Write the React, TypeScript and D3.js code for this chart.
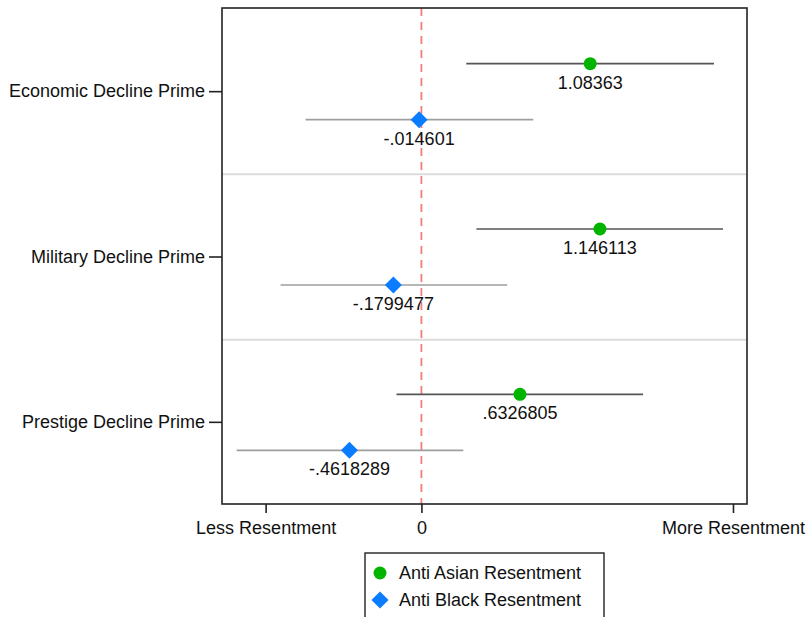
import React, { useEffect, useRef } from "react";
import * as d3 from "d3";

// primes on the y axis, top to bottom
const primes = [
  "Economic Decline Prime",
  "Military Decline Prime",
  "Prestige Decline Prime",
];
const seriesNames = ["Anti Asian Resentment", "Anti Black Resentment"];

// point estimates and confidence bounds, per prime
const asianEst = [1.08363, 1.146113, 0.6326805];
const asianLo = [0.288, 0.353, -0.16];
const asianHi = [1.878, 1.936, 1.423];
const blackEst = [-0.014601, -0.1799477, -0.4618289];
const blackLo = [-0.744, -0.904, -1.186];
const blackHi = [0.718, 0.551, 0.269];

const estLabels = [
  ["1.08363", "1.146113", ".6326805"],
  ["-.014601", "-.1799477", "-.4618289"],
];

const xTicks = [-1, 0, 2];
const xTickLabels = ["Less Resentment", "0", "More Resentment"];

const App: React.FC = () => {
  const svgRef = useRef<SVGSVGElement | null>(null);

  useEffect(() => {
    const width = 810;
    const height = 617;
    const left = 222;
    const right = 747;
    const top = 8;
    const bottom = 504;
    const font = "Liberation Sans, Arial, Helvetica, sans-serif";

    const svg = d3.select(svgRef.current);
    svg.selectAll("*").remove();
    svg
      .attr("width", width)
      .attr("height", height)
      .attr("viewBox", [0, 0, width, height])
      .style("font-family", font);

    const x = d3.scaleLinear().domain([-1.28, 2.09]).range([left, right]);
    const y = d3.scaleBand().domain(primes).range([top + 1, bottom + 1]).paddingInner(0);
    const sub = d3.scalePoint().domain(seriesNames).range([-28, 28]);

    svg.append("rect").attr("width", width).attr("height", height).attr("fill", "white");

    // row separators
    svg
      .selectAll(".sep")
      .data(primes.slice(1))
      .enter()
      .append("line")
      .attr("x1", left)
      .attr("x2", right)
      .attr("y1", (d) => y(d) as number)
      .attr("y2", (d) => y(d) as number)
      .attr("stroke", "#dcdcdc")
      .attr("stroke-width", 2);

    // zero reference line
    svg
      .append("line")
      .attr("x1", x(0))
      .attr("x2", x(0))
      .attr("y1", top)
      .attr("y2", bottom)
      .attr("stroke", "#f47c7c")
      .attr("stroke-width", 1.8)
      .attr("stroke-dasharray", "8,6");

    const series = [
      { name: seriesNames[0], est: asianEst, lo: asianLo, hi: asianHi, line: "#555555", color: "#00b400", shape: "circle" },
      { name: seriesNames[1], est: blackEst, lo: blackLo, hi: blackHi, line: "#9e9e9e", color: "#0a7cff", shape: "diamond" },
    ];

    const drawMarker = (g: any, shape: string, color: string, cx: number, cy: number) => {
      if (shape === "circle") {
        g.append("circle").attr("cx", cx).attr("cy", cy).attr("r", 6.5).attr("fill", color);
      } else {
        const r = 8.5;
        g.append("path")
          .attr("d", `M${cx},${cy - r}L${cx + r},${cy}L${cx},${cy + r}L${cx - r},${cy}Z`)
          .attr("fill", color);
      }
    };

    series.forEach((s, si) => {
      const g = svg.append("g");
      primes.forEach((p, i) => {
        const cy = (y(p) as number) + y.bandwidth() / 2 + (sub(s.name) as number);
        g.append("line")
          .attr("x1", x(s.lo[i]))
          .attr("x2", x(s.hi[i]))
          .attr("y1", cy)
          .attr("y2", cy)
          .attr("stroke", s.line)
          .attr("stroke-width", 1.6);
        drawMarker(g, s.shape, s.color, x(s.est[i]), cy);
        g.append("text")
          .attr("x", x(s.est[i]))
          .attr("y", cy + 25)
          .attr("text-anchor", "middle")
          .attr("font-size", 18)
          .attr("fill", "#111")
          .text(estLabels[si][i]);
      });
    });

    // frame
    svg
      .append("rect")
      .attr("x", left)
      .attr("y", top)
      .attr("width", right - left)
      .attr("height", bottom - top)
      .attr("fill", "none")
      .attr("stroke", "#222")
      .attr("stroke-width", 1.6);

    // y axis
    const gy = svg
      .append("g")
      .attr("transform", `translate(${left},0)`)
      .call(d3.axisLeft(y).tickSize(13).tickPadding(4));
    gy.select(".domain").remove();
    gy.selectAll("line").attr("stroke", "#222").attr("stroke-width", 1.6);
    gy.selectAll("text").attr("font-size", 18).attr("fill", "#111").attr("font-family", font);

    // x axis
    const gx = svg
      .append("g")
      .attr("transform", `translate(0,${bottom})`)
      .call(
        d3
          .axisBottom(x)
          .tickValues(xTicks)
          .tickSize(9)
          .tickPadding(8)
          .tickFormat((_, i) => xTickLabels[i]),
      );
    gx.select(".domain").remove();
    gx.selectAll("line").attr("stroke", "#222").attr("stroke-width", 1.6);
    gx.selectAll("text").attr("font-size", 18).attr("fill", "#111").attr("font-family", font);

    // legend
    const lg = svg.append("g");
    lg.append("rect")
      .attr("x", 365)
      .attr("y", 553)
      .attr("width", 239)
      .attr("height", 70)
      .attr("fill", "white")
      .attr("stroke", "#222")
      .attr("stroke-width", 1.4);
    series.forEach((s, i) => {
      const cy = 573 + i * 27;
      drawMarker(lg, s.shape, s.color, 380, cy);
      lg.append("text")
        .attr("x", 399)
        .attr("y", cy)
        .attr("dy", "0.35em")
        .attr("font-size", 18)
        .attr("fill", "#111")
        .text(s.name);
    });
  }, []);

  return (
    <svg
      ref={svgRef}
      style={{ position: "absolute", left: 0, top: 0, display: "block" }}
    ></svg>
  );
};

export default App;
